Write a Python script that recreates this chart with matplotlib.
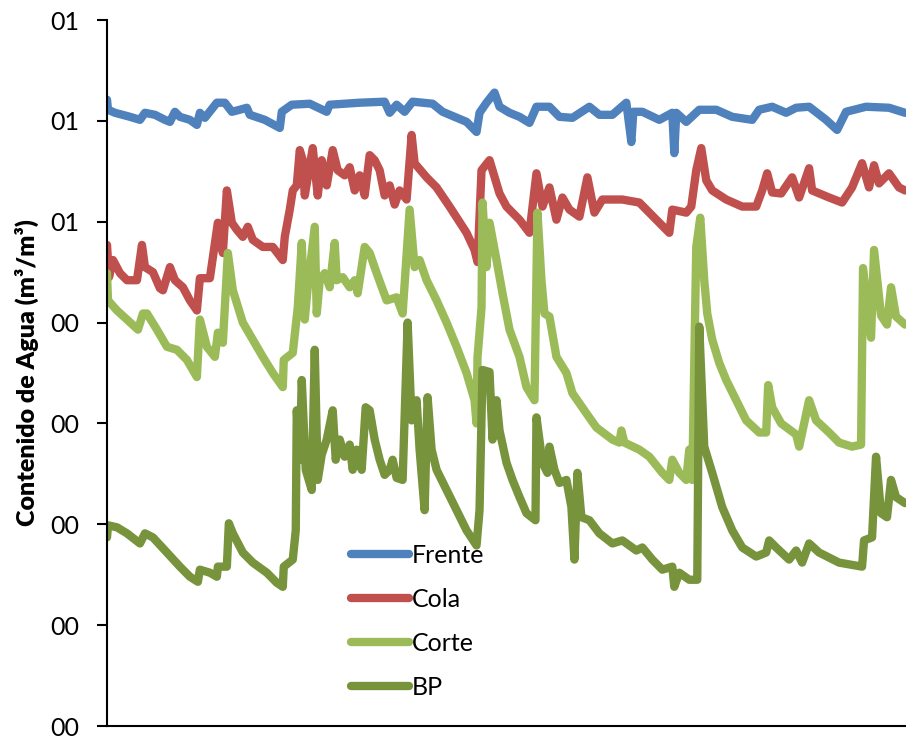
import matplotlib
matplotlib.use("Agg")
import matplotlib.pyplot as plt

# days since start of record, values in m3/m3
frente_x = [0, 1, 8, 23, 33, 38, 48, 58, 63, 68, 73, 83, 90, 93, 98, 110, 118, 125, 133, 140,
            143, 158, 173, 175, 185, 203, 220, 223, 253, 278, 283, 290, 298, 306, 326, 336, 360,
            370, 373, 380, 388, 393, 403, 413, 423, 430, 443, 453, 466, 483, 493, 506, 520, 525,
            527, 536, 553, 566, 568, 570, 580, 593, 610, 626, 646, 653, 666, 680, 690, 703, 720,
            731, 740, 760, 783, 799]
frente_y = [0.621, 0.611, 0.608, 0.604, 0.601, 0.608, 0.606, 0.601, 0.599, 0.609, 0.604, 0.601,
            0.596, 0.608, 0.603, 0.618, 0.618, 0.609, 0.611, 0.613, 0.606, 0.601, 0.593, 0.609,
            0.616, 0.617, 0.609, 0.616, 0.618, 0.619, 0.608, 0.616, 0.609, 0.619, 0.617, 0.609,
            0.599, 0.589, 0.608, 0.618, 0.628, 0.614, 0.608, 0.604, 0.598, 0.614, 0.614, 0.604,
            0.603, 0.614, 0.606, 0.606, 0.618, 0.579, 0.609, 0.609, 0.601, 0.608, 0.568, 0.608,
            0.599, 0.611, 0.611, 0.604, 0.601, 0.611, 0.614, 0.608, 0.613, 0.614, 0.601, 0.591,
            0.609, 0.614, 0.613, 0.608]

cola_x = [0, 2, 6, 13, 20, 30, 35, 38, 46, 53, 56, 63, 68, 76, 83, 90, 93, 103, 111, 116, 120,
          125, 130, 136, 141, 146, 156, 166, 176, 178, 183, 186, 190, 193, 196, 198, 206, 211,
          215, 220, 226, 231, 238, 243, 248, 253, 258, 263, 268, 273, 278, 283, 288, 293, 300,
          305, 308, 320, 330, 343, 360, 368, 371, 375, 383, 393, 400, 413, 423, 430, 436, 443,
          450, 456, 463, 473, 481, 488, 496, 516, 533, 550, 563, 566, 580, 585, 590, 595, 600,
          606, 620, 636, 650, 656, 661, 666, 675, 686, 693, 703, 706, 723, 736, 746, 756, 763,
          768, 773, 783, 793, 799]
cola_y = [0.477, 0.445, 0.462, 0.449, 0.442, 0.442, 0.477, 0.455, 0.450, 0.434, 0.432, 0.455,
          0.442, 0.435, 0.422, 0.412, 0.444, 0.444, 0.499, 0.469, 0.531, 0.499, 0.492, 0.485,
          0.495, 0.482, 0.475, 0.475, 0.462, 0.485, 0.512, 0.531, 0.536, 0.571, 0.561, 0.526,
          0.573, 0.526, 0.561, 0.536, 0.571, 0.551, 0.546, 0.554, 0.531, 0.546, 0.526, 0.566,
          0.561, 0.551, 0.526, 0.536, 0.517, 0.531, 0.522, 0.586, 0.558, 0.544, 0.534, 0.515,
          0.489, 0.472, 0.460, 0.551, 0.561, 0.528, 0.515, 0.502, 0.489, 0.548, 0.515, 0.534,
          0.502, 0.524, 0.512, 0.505, 0.544, 0.509, 0.522, 0.522, 0.519, 0.502, 0.489, 0.512,
          0.509, 0.515, 0.551, 0.573, 0.541, 0.531, 0.522, 0.515, 0.515, 0.531, 0.548, 0.529,
          0.528, 0.544, 0.524, 0.553, 0.531, 0.524, 0.519, 0.534, 0.558, 0.534, 0.556, 0.538,
          0.548, 0.534, 0.531]

corte_x = [0, 1, 10, 20, 31, 36, 40, 50, 60, 70, 80, 90, 93, 100, 108, 111, 116, 121, 126, 136,
           146, 156, 166, 176, 177, 186, 191, 195, 198, 201, 208, 210, 213, 218, 223, 228, 230,
           236, 243, 248, 251, 258, 263, 270, 280, 290, 296, 303, 308, 313, 320, 330, 340, 350,
           360, 368, 370, 371, 375, 376, 380, 383, 390, 396, 403, 413, 420, 428, 431, 435, 438,
           443, 450, 460, 466, 480, 490, 506, 513, 515, 518, 533, 543, 556, 563, 566, 573, 580,
           583, 586, 590, 594, 598, 601, 606, 613, 620, 630, 640, 653, 660, 662, 666, 675, 690,
           693, 703, 710, 723, 733, 746, 755, 757, 765, 768, 775, 781, 785, 790, 799]
corte_y = [0.449, 0.422, 0.412, 0.403, 0.393, 0.409, 0.409, 0.393, 0.376, 0.373, 0.363, 0.346,
           0.403, 0.376, 0.366, 0.390, 0.380, 0.469, 0.432, 0.400, 0.383, 0.366, 0.350, 0.336,
           0.363, 0.370, 0.415, 0.479, 0.403, 0.435, 0.495, 0.409, 0.442, 0.449, 0.435, 0.479,
           0.442, 0.445, 0.435, 0.442, 0.429, 0.475, 0.469, 0.449, 0.422, 0.425, 0.409, 0.512,
           0.455, 0.462, 0.442, 0.422, 0.400, 0.376, 0.350, 0.323, 0.300, 0.366, 0.415, 0.519,
           0.455, 0.499, 0.462, 0.429, 0.393, 0.366, 0.336, 0.323, 0.509, 0.442, 0.409, 0.406,
           0.366, 0.350, 0.330, 0.310, 0.296, 0.284, 0.281, 0.293, 0.281, 0.274, 0.267, 0.251,
           0.244, 0.264, 0.251, 0.244, 0.274, 0.244, 0.475, 0.504, 0.442, 0.409, 0.383, 0.360,
           0.343, 0.323, 0.303, 0.291, 0.291, 0.338, 0.316, 0.300, 0.289, 0.277, 0.323, 0.303,
           0.291, 0.281, 0.277, 0.279, 0.454, 0.385, 0.472, 0.407, 0.398, 0.435, 0.406, 0.398]

bp_x = [0, 1, 10, 20, 33, 38, 46, 60, 73, 83, 91, 93, 103, 110, 111, 120, 122, 126, 136, 146,
        160, 170, 176, 177, 186, 189, 190, 193, 195, 199, 205, 208, 211, 215, 220, 226, 229, 233,
        238, 243, 246, 250, 255, 259, 263, 268, 273, 278, 283, 286, 290, 296, 301, 305, 310, 313,
        318, 321, 325, 330, 340, 350, 360, 370, 373, 376, 383, 386, 390, 393, 400, 406, 413, 420,
        429, 430, 436, 441, 443, 448, 453, 460, 465, 468, 471, 475, 483, 493, 506, 516, 530, 536,
        546, 556, 566, 568, 573, 583, 591, 593, 598, 606, 616, 626, 636, 650, 660, 663, 670, 683,
        690, 696, 703, 713, 733, 756, 758, 766, 770, 775, 781, 785, 790, 799]
bp_y = [0.187, 0.199, 0.197, 0.191, 0.181, 0.191, 0.187, 0.172, 0.158, 0.148, 0.143, 0.155,
        0.152, 0.148, 0.158, 0.158, 0.201, 0.191, 0.172, 0.162, 0.152, 0.142, 0.138, 0.158,
        0.165, 0.194, 0.313, 0.264, 0.343, 0.254, 0.234, 0.373, 0.244, 0.269, 0.284, 0.313,
        0.264, 0.284, 0.267, 0.279, 0.254, 0.274, 0.254, 0.316, 0.313, 0.284, 0.264, 0.249,
        0.254, 0.264, 0.246, 0.244, 0.400, 0.303, 0.323, 0.274, 0.214, 0.326, 0.274, 0.254,
        0.234, 0.214, 0.194, 0.179, 0.214, 0.353, 0.351, 0.284, 0.323, 0.293, 0.261, 0.244,
        0.227, 0.211, 0.204, 0.306, 0.261, 0.251, 0.277, 0.254, 0.241, 0.244, 0.217, 0.165,
        0.251, 0.207, 0.204, 0.191, 0.181, 0.184, 0.174, 0.177, 0.165, 0.155, 0.158, 0.138,
        0.152, 0.145, 0.145, 0.396, 0.277, 0.251, 0.217, 0.194, 0.177, 0.168, 0.172, 0.184,
        0.177, 0.165, 0.174, 0.162, 0.181, 0.172, 0.162, 0.158, 0.184, 0.187, 0.267, 0.211,
        0.207, 0.244, 0.227, 0.221]

y_ticks = [0.0, 0.1, 0.2, 0.3, 0.4, 0.5, 0.6, 0.7]
y_tick_labels = ["00", "00", "00", "00", "00", "01", "01", "01"]

series = [
    ("Frente", frente_x, frente_y, "#4F81BD"),
    ("Cola", cola_x, cola_y, "#C0504D"),
    ("Corte", corte_x, corte_y, "#9BBB59"),
    ("BP", bp_x, bp_y, "#77933C"),
]

plt.rcParams["font.family"] = ["Lato", "DejaVu Sans"]

fig = plt.figure(figsize=(9.06, 7.38), dpi=100)
ax = fig.add_axes([107 / 906, 12 / 738, 1 - 107 / 906, 706 / 738])

for name, xs, ys, col in series:
    ax.plot(xs, ys, color=col, lw=6, label=name,
            solid_capstyle="round", solid_joinstyle="round")

ax.set_xlim(0, 800)
ax.set_ylim(0, 0.7)
ax.set_yticks(y_ticks)
ax.set_yticklabels(y_tick_labels, fontsize=18)
ax.set_xticks([])
ax.tick_params(axis="y", direction="out", length=7, width=1.5, pad=13)

for s in ["top", "right"]:
    ax.spines[s].set_visible(False)
for s in ["left", "bottom"]:
    ax.spines[s].set_linewidth(1.5)
    ax.spines[s].set_color("black")

ax.set_ylabel("Contenido de Agua (m³/m³)", fontsize=18, fontweight="heavy", labelpad=8)

leg = ax.legend(loc="upper left", bbox_to_anchor=(0.293, 0.272), frameon=False,
                fontsize=18, handlelength=2.3, handletextpad=0.12, labelspacing=0.84,
                borderaxespad=0)
for h in leg.get_lines():
    h.set_linewidth(6)
    h.set_solid_capstyle("round")

fig.savefig("out.png", dpi=100)
